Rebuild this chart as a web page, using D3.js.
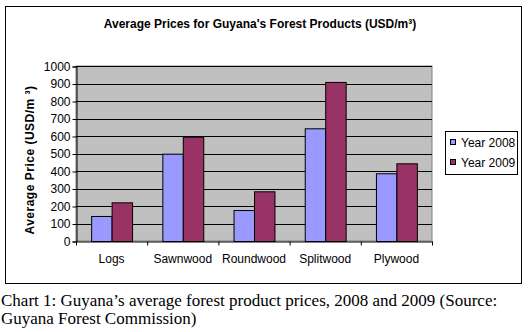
<!DOCTYPE html>
<html><head><meta charset="utf-8">
<script src="https://cdn.jsdelivr.net/npm/d3@7"></script>
<style>
html,body{margin:0;padding:0;background:#fff;}
svg{display:block;}
</style></head>
<body>
<script>
const categories = ["Logs", "Sawnwood", "Roundwood", "Splitwood", "Plywood"];
const seriesNames = ["Year 2008", "Year 2009"];
const values2008 = [143, 499, 177, 644, 387];
const values2009 = [221, 596, 284, 909, 444];
const yTicks = [0,100,200,300,400,500,600,700,800,900,1000];
const colors = ["#9999FF", "#993366"];

const W = 531, H = 332;
const svg = d3.select("body").append("svg").attr("width", W).attr("height", H);

// outer frame
svg.append("rect").attr("x", 5.5).attr("y", 6.5).attr("width", 516).attr("height", 277)
  .attr("fill", "#fff").attr("stroke", "#000").attr("stroke-width", 1);

const plot = {left: 76, top: 66, right: 432, bottom: 241};
const x = d3.scaleBand().domain(categories).range([plot.left, plot.right]).paddingInner(0).paddingOuter(0);
const xs = d3.scaleBand().domain(seriesNames).range([0, x.bandwidth()]).paddingInner(0).paddingOuter(0.74);
const y = d3.scaleLinear().domain([0, 1000]).range([plot.bottom, plot.top]);

svg.append("rect").attr("x", plot.left).attr("y", plot.top)
  .attr("width", plot.right - plot.left).attr("height", plot.bottom - plot.top)
  .attr("fill", "#C0C0C0").attr("stroke", "#808080").attr("stroke-width", 1);

// gridlines
svg.append("g").selectAll("line").data(yTicks.filter(d => d > 0)).join("line")
  .attr("x1", plot.left).attr("x2", plot.right)
  .attr("y1", d => Math.round(y(d)) + 0.5).attr("y2", d => Math.round(y(d)) + 0.5)
  .attr("stroke", "#000").attr("stroke-width", 1);

// bars
const series = [values2008, values2009];
series.forEach((vals, si) => {
  svg.append("g").selectAll("rect").data(categories).join("rect")
    .attr("x", (c) => x(c) + xs(seriesNames[si]) + 0.5)
    .attr("y", (c, i) => y(vals[i]) + 0.5)
    .attr("width", xs.bandwidth())
    .attr("height", (c, i) => y(0) - y(vals[i]))
    .attr("fill", colors[si]).attr("stroke", "#000").attr("stroke-width", 1);
});

// y axis
const yAxis = d3.axisLeft(y).tickValues(yTicks).tickSize(4).tickPadding(2).tickFormat(d3.format("d"));
const yg = svg.append("g").attr("transform", `translate(${plot.left + 0.5},0.5)`).call(yAxis);
yg.selectAll("text").attr("font-family", "Liberation Sans, Arial, sans-serif").attr("font-size", 12).attr("fill", "#000");
yg.select(".domain").attr("stroke", "#000");
yg.selectAll(".tick line").attr("stroke", "#000");

// x axis
const xAxis = d3.axisBottom(x).tickSize(0).tickPadding(13);
const xg = svg.append("g").attr("transform", `translate(0,${plot.bottom + 0.5})`).call(xAxis);
xg.selectAll("text").attr("font-family", "Liberation Sans, Arial, sans-serif").attr("font-size", 12).attr("fill", "#000");
xg.select(".domain").attr("stroke", "#000");
// category boundary ticks
xg.append("g").selectAll("line").data(d3.range(categories.length + 1)).join("line")
  .attr("x1", i => plot.left + i * x.step() + 0.5).attr("x2", i => plot.left + i * x.step() + 0.5)
  .attr("y1", 0).attr("y2", 4).attr("stroke", "#000");

// title
svg.append("text").attr("x", 260).attr("y", 28).attr("text-anchor", "middle")
  .attr("font-family", "Liberation Sans, Arial, sans-serif").attr("font-size", 12).attr("font-weight", "bold")
  .text("Average Prices for Guyana's Forest Products (USD/m³)");

// y title
svg.append("text").attr("transform", "translate(34,160) rotate(-90)").attr("text-anchor", "middle")
  .attr("font-family", "Liberation Sans, Arial, sans-serif").attr("font-size", 12).attr("font-weight", "bold")
  .attr("letter-spacing", 0.5)
  .text("Average Price (USD/m ³)");

// legend
const lg = svg.append("g");
lg.append("rect").attr("x", 445.5).attr("y", 131.5).attr("width", 72).attr("height", 43)
  .attr("fill", "#fff").attr("stroke", "#000");
seriesNames.forEach((s, i) => {
  lg.append("rect").attr("x", 450.5).attr("y", 139.5 + i * 20).attr("width", 5).attr("height", 5)
    .attr("fill", colors[i]).attr("stroke", "#000");
  lg.append("text").attr("x", 461).attr("y", 147 + i * 20)
    .attr("font-family", "Liberation Sans, Arial, sans-serif").attr("font-size", 12).text(s);
});

// caption
const cap = svg.append("text").attr("font-family", "Liberation Serif, Times New Roman, serif").attr("font-size", 17).attr("fill", "#000");
cap.append("tspan").attr("x", 1).attr("y", 306).text("Chart 1: Guyana’s average forest product prices, 2008 and 2009 (Source:");
cap.append("tspan").attr("x", 1).attr("y", 324).text("Guyana Forest Commission)");
</script>
</body></html>
